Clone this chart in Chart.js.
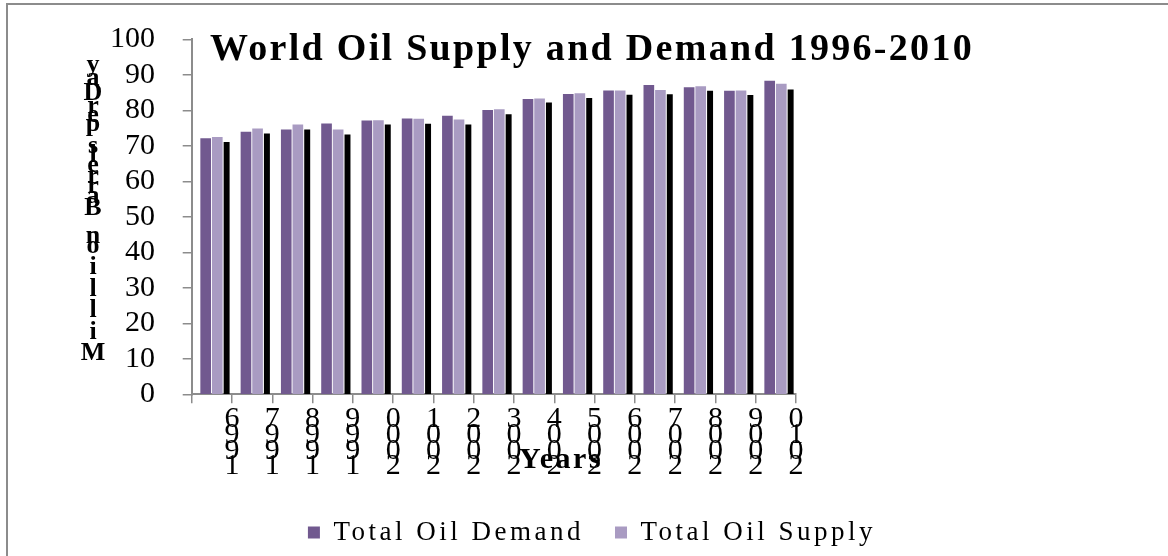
<!DOCTYPE html>
<html>
<head>
<meta charset="utf-8">
<script src="https://cdn.jsdelivr.net/npm/chart.js@4.4.1/dist/chart.umd.min.js"></script>
<style>
html,body{margin:0;padding:0;background:#fff;overflow:hidden;}
#wrap{position:relative;width:1168px;height:556px;overflow:hidden;}
#frame{position:absolute;left:6px;top:3px;width:1400px;height:800px;border:2px solid #8c8c8c;box-sizing:border-box;}
#c{position:absolute;left:0;top:0;}
</style>
</head>
<body>
<div id="wrap"><div id="frame"></div><canvas id="c" width="1168" height="556"></canvas></div>
<script>
// ---- data ----
const years = ['1996','1997','1998','1999','2000','2001','2002','2003','2004','2005','2006','2007','2008','2009','2010'];
const totalOilDemand = [72.0,73.9,74.5,76.2,77.0,77.6,78.4,80.0,83.1,84.5,85.5,87.0,86.4,85.4,88.2];
const totalOilSupply = [72.4,74.8,75.9,74.5,77.1,77.5,77.3,80.2,83.2,84.7,85.5,85.6,86.7,85.5,87.4];
const thirdSeries    = [71.0,73.4,74.5,73.1,75.9,76.1,75.9,78.8,82.1,83.4,84.3,84.4,85.4,84.2,85.8];
const seriesNames = ['Total Oil Demand','Total Oil Supply','Series 3'];
const yTickMin = 0, yTickMax = 100, yTickStep = 10;
const chartTitle = 'World Oil Supply and Demand 1996-2010';
const xTitle = 'Years';
const yTitle = 'Million Barrels per Day';

const SERIF = '"Liberation Serif", "Times New Roman", serif';
Chart.defaults.font.family = SERIF;
Chart.defaults.color = '#000';
const AXIS = '#8c8c8c';
const SHIFT = 0.365;   // category boundaries sit at year + SHIFT on the value axis

// letter spacing for title and legend (as in the reference rendering)
const spacingPlugin = {
  id: 'spacing',
  afterInit(chart) {
    const wrap = (obj, name, sp) => {
      if (!obj) return;
      const f = obj[name];
      obj[name] = function (...a) {
        const c = chart.ctx;
        const prev = c.letterSpacing;
        c.letterSpacing = sp;
        try { return f.apply(this, a); } finally { c.letterSpacing = prev || '0px'; }
      };
    };
    wrap(chart.legend, 'fit', '3.5px');
    wrap(chart.legend, 'draw', '3.5px');
    wrap(chart.titleBlock, 'draw', '2.3px');
  }
};

// axis titles drawn as upright glyph stacks like the reference
const axisTitles = {
  id: 'axisTitles',
  afterDraw(chart) {
    const ctx = chart.ctx;
    ctx.save();
    ctx.fillStyle = '#000';
    ctx.font = 'bold 30px ' + SERIF;
    ctx.letterSpacing = '2.5px';
    ctx.textAlign = 'center';
    ctx.textBaseline = 'alphabetic';
    ctx.fillText(xTitle, 561, 468);
    ctx.letterSpacing = '0px';
    ctx.font = 'bold 26px ' + SERIF;
    const chars = yTitle.split('').reverse().filter(ch => ch !== ' ');
    const baselines = [72,85,100,113,121.7,131,153,161.7,172,182.5,193,203,215,243,253,274,296,317,339,360];
    chars.forEach((ch, i) => ctx.fillText(ch, 93, baselines[i]));
    ctx.restore();
  }
};

new Chart(document.getElementById('c'), {
  type: 'bar',
  data: {
    labels: years,
    datasets: [
      { label: seriesNames[0], data: totalOilDemand, backgroundColor: '#71598f', barThickness: 11.6, maxBarThickness: 10, xAxisID: 'x' },
      { label: seriesNames[1], data: totalOilSupply, backgroundColor: '#a99bc2', barThickness: 11.6, maxBarThickness: 10, xAxisID: 'x' },
      { label: seriesNames[2], data: thirdSeries, backgroundColor: '#000000', barThickness: 9.35, maxBarThickness: 5.3, xAxisID: 'x' }
    ]
  },
  options: {
    responsive: false,
    animation: false,
    devicePixelRatio: 1,
    layout: { padding: { left: 16, right: 0, top: 0, bottom: 0 } },
    scales: {
      x: {
        type: 'linear', position: 'bottom', offset: false,
        min: +years[0] - 1 + SHIFT, max: +years[years.length - 1] + SHIFT,
        afterBuildTicks: (s) => {
          s.ticks = [{ value: +years[0] - 1 + SHIFT }].concat(years.map(y => ({ value: +y + SHIFT })));
        },
        grid: { offset: false, drawOnChartArea: false, drawTicks: true, tickLength: 9, color: AXIS, lineWidth: 1.5 },
        border: { display: true, color: AXIS, width: 2 },
        ticks: {
          autoSkip: false, maxRotation: 0, minRotation: 0, padding: 8,
          font: { size: 30, lineHeight: '15.8px' }, color: '#000',
          callback: (v, i) => (i === 0 ? '' : years[i - 1].split('').reverse())
        },
        afterFit: (s) => { const lh = s.chart.legend ? s.chart.legend.height : 68; s.height = 556 - lh - 394.3; }
      },
      y: {
        position: 'left', min: yTickMin, max: yTickMax,
        ticks: { stepSize: yTickStep, autoSkip: false, padding: 27.7, font: { size: 30, lineHeight: 0.3 }, color: '#000' },
        grid: { drawOnChartArea: false, drawTicks: true, tickLength: 9, color: AXIS, lineWidth: 1.5 },
        border: { display: true, color: AXIS, width: 2 },
        afterFit: (s) => { s.width = 175.7; }
      },
      yR: {
        position: 'right', display: true,
        grid: { display: false }, ticks: { display: false }, border: { display: false },
        afterFit: (s) => { s.width = 372; }
      }
    },
    plugins: {
      title: {
        display: true, text: chartTitle, align: 'center', color: '#000',
        font: { size: 38, weight: 'bold', lineHeight: 1.2 },
        padding: { top: 27.4, bottom: -33.7 }
      },
      legend: {
        display: true, position: 'bottom', align: 'center',
        labels: {
          boxWidth: 12, boxHeight: 12, padding: 31, color: '#000',
          font: { size: 27 },
          filter: (item) => item.datasetIndex < 2
        }
      },
      tooltip: { enabled: false }
    }
  },
  plugins: [spacingPlugin, axisTitles]
});
</script>
</body>
</html>
